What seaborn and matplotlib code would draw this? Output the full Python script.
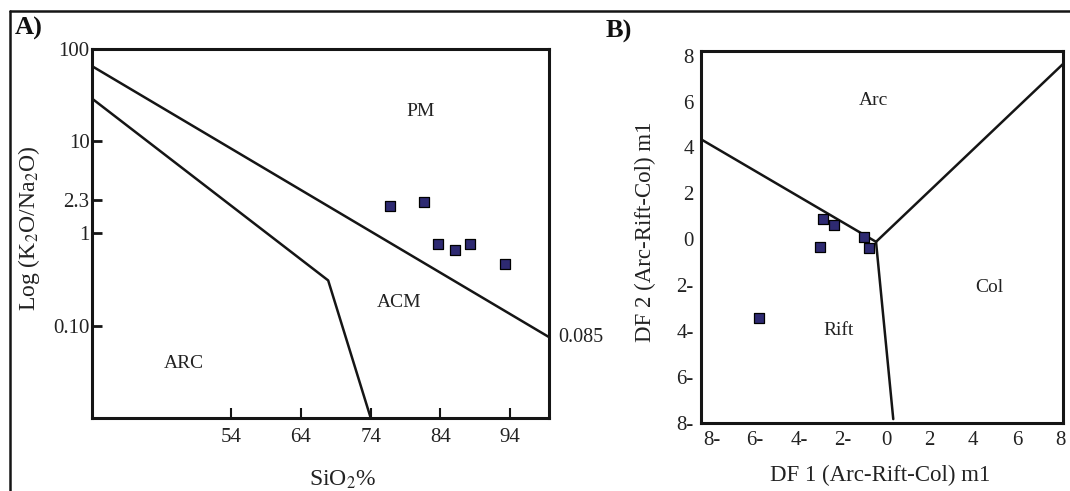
import matplotlib
matplotlib.use('Agg')
import seaborn as sns
import matplotlib.pyplot as plt
from matplotlib.lines import Line2D
from matplotlib.ticker import NullLocator

#///// Data
# Panel A: SiO2 vs K2O/Na2O discrimination diagram
sio2 = [76.8, 81.6, 83.7, 86.1, 88.2, 93.2]
k2o_na2o = [1.98, 2.17, 0.77, 0.66, 0.77, 0.47]
pm_acm_x = [34.0, 99.6]
pm_acm_y = [65.5, 0.075]
acm_arc_x = [34.0, 67.9, 74.0]
acm_arc_y = [29.2, 0.31, 0.01]
a_xticks = [54, 64, 74, 84, 94]
a_yticks = [100, 10, 2.3, 1, 0.1]
a_yticklabels = ['100', '10', '2.3', '1', '0.10']

# Panel B: DF1 vs DF2 (Arc-Rift-Col) m1
df1 = [-2.90, -2.38, -1.01, -0.77, -3.05, -5.83]
df2 = [0.90, 0.61, 0.12, -0.37, -0.32, -3.41]
arc_rift_x = [-8.51, -0.46]
arc_rift_y = [4.37, -0.11]
arc_col_x = [-0.46, 8.12]
arc_col_y = [-0.11, 7.64]
rift_col_x = [-0.46, 0.33]
rift_col_y = [-0.11, -7.83]
b_ticks = [-8, -6, -4, -2, 0, 2, 4, 6, 8]
b_ticklabels = ['8-', '6-', '4-', '2-', '0', '2', '4', '6', '8']

#///// Style
sns.set_theme(style='white')
plt.rcParams['font.family'] = ['Liberation Serif', 'DejaVu Serif']
plt.rcParams['mathtext.fontset'] = 'stix'

point_color = '#2e2a72'
text_color = '#222222'
line_color = '#151515'
fig = plt.figure(figsize=(10.7, 4.91), dpi=100)

# Outer frame (top and left edge)
fig.add_artist(Line2D([10/1070, 1.0], [1 - 11/491, 1 - 11/491], transform=fig.transFigure, color=line_color, linewidth=1.8))
fig.add_artist(Line2D([10/1070, 10/1070], [0.0, 1 - 11/491], transform=fig.transFigure, color=line_color, linewidth=1.8))

#///// Panel A
axA = fig.add_axes([91.7/1070, 1 - 418/491, (549.3 - 91.7)/1070, (418 - 49)/491])
axA.set_yscale('log')
sns.lineplot(x=pm_acm_x, y=pm_acm_y, ax=axA, sort=False, estimator=None, color=line_color, linewidth=1.8)
sns.lineplot(x=acm_arc_x, y=acm_arc_y, ax=axA, sort=False, estimator=None, color=line_color, linewidth=1.8)
sns.scatterplot(x=sio2, y=k2o_na2o, ax=axA, marker='s', s=58, color=point_color, edgecolor='black', linewidth=0.9, zorder=3)
axA.set_xlim(34, 99.6)
axA.set_ylim(0.01, 100)
axA.set_xticks(a_xticks)
axA.set_xticklabels([str(t) for t in a_xticks])
axA.set_yticks(a_yticks)
axA.set_yticklabels(a_yticklabels)
axA.yaxis.set_minor_locator(NullLocator())
axA.tick_params(axis='x', bottom=True, direction='in', length=7, width=1.5, pad=7, labelsize=15, colors=line_color, labelcolor=text_color)
axA.tick_params(axis='y', left=True, direction='in', length=7.5, width=2.0, pad=1.5, labelsize=15, colors=line_color, labelcolor=text_color)
for s in axA.spines.values():
    s.set_linewidth(2.2)
    s.set_color(line_color)
axA.text(81.2, 20.9, 'PM', fontsize=14, ha='center', va='center', color=text_color)
axA.text(78.1, 0.177, 'ACM', fontsize=14, ha='center', va='center', color=text_color)
axA.text(47.2, 0.039, 'ARC', fontsize=14, ha='center', va='center', color=text_color)
fig.text(558/1070, 1 - 338/491, '0.085', fontsize=14.5, ha='left', va='center', color=text_color)
fig.text(29/1070, 1 - 228/491, r'Log (K$_2$O/Na$_2$O)', fontsize=17, rotation=90, ha='center', va='center', color=text_color)
fig.text(343/1070, 1 - 480/491, r'SiO$_2$%', fontsize=17, ha='center', va='center', color=text_color)
fig.text(15/1070, 1 - 28/491, 'A)', fontsize=19, fontweight='bold', ha='left', va='center', color='#111111')

#///// Panel B
axB = fig.add_axes([700.7/1070, 1 - 423/491, (1062.7 - 700.7)/1070, (423 - 51)/491])
sns.lineplot(x=arc_rift_x, y=arc_rift_y, ax=axB, sort=False, estimator=None, color=line_color, linewidth=1.8)
sns.lineplot(x=arc_col_x, y=arc_col_y, ax=axB, sort=False, estimator=None, color=line_color, linewidth=1.8)
sns.lineplot(x=rift_col_x, y=rift_col_y, ax=axB, sort=False, estimator=None, color=line_color, linewidth=1.8)
sns.scatterplot(x=df1, y=df2, ax=axB, marker='s', s=58, color=point_color, edgecolor='black', linewidth=0.9, zorder=3)
axB.set_xlim(-8.5, 8.1)
axB.set_ylim(-8.0, 8.2)
axB.set_xticks(b_ticks)
axB.set_xticklabels(b_ticklabels)
axB.set_yticks(b_ticks)
axB.set_yticklabels(b_ticklabels)
axB.tick_params(axis='both', length=0, labelsize=15, colors=text_color)
axB.tick_params(axis='x', pad=6)
axB.tick_params(axis='y', pad=5)
for s in axB.spines.values():
    s.set_linewidth(2.2)
    s.set_color(line_color)
axB.text(-0.56, 6.06, 'Arc', fontsize=14, ha='center', va='center', color=text_color)
axB.text(4.72, -2.09, 'Col', fontsize=14, ha='center', va='center', color=text_color)
axB.text(-2.19, -3.98, 'Rift', fontsize=14, ha='center', va='center', color=text_color)
fig.text(645/1070, 1 - 232/491, 'DF 2 (Arc-Rift-Col) m1', fontsize=16.5, rotation=90, ha='center', va='center', color=text_color)
fig.text(880/1070, 1 - 475/491, 'DF 1 (Arc-Rift-Col) m1', fontsize=16.5, ha='center', va='center', color=text_color)
fig.text(606/1070, 1 - 31/491, 'B)', fontsize=19, fontweight='bold', ha='left', va='center', color='#111111')

fig.savefig('out.png', dpi=100)
